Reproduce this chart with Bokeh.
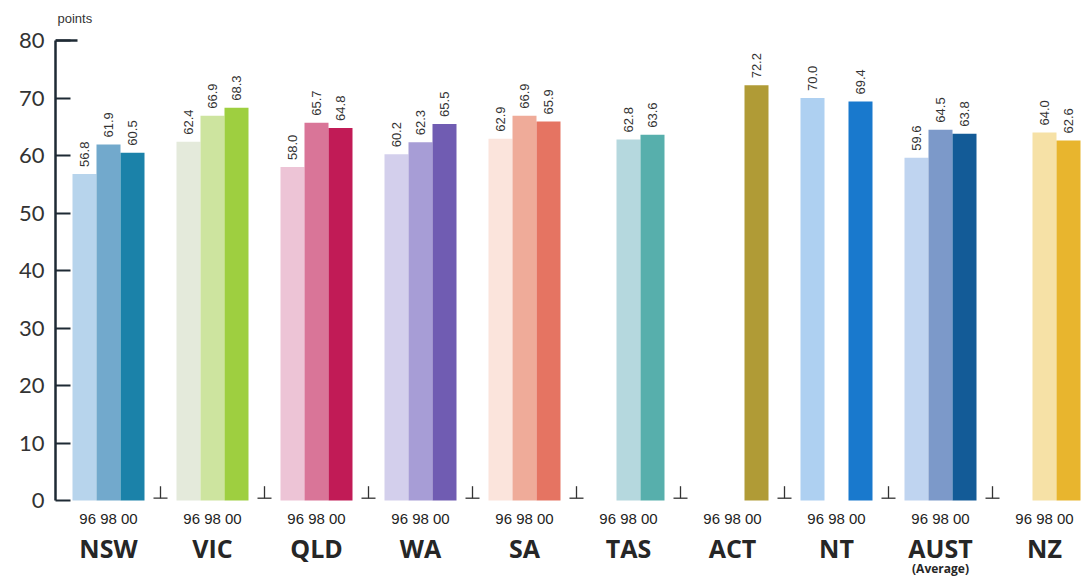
import numpy as np
from bokeh.plotting import figure
from bokeh.models import ColumnDataSource, LinearAxis, FixedTicker, Range1d
from bokeh.core.properties import value
from bokeh.embed import file_html
from bokeh.resources import INLINE

# ---------------- data ----------------
regions = ["NSW", "VIC", "QLD", "WA", "SA", "TAS", "ACT", "NT", "AUST", "NZ"]
years = ["96", "98", "00"]
values_96 = [56.8, 62.4, 58.0, 60.2, 62.9, None, None, 70.0, 59.6, None]
values_98 = [61.9, 66.9, 65.7, 62.3, 66.9, 62.8, None, None, 64.5, 64.0]
values_00 = [60.5, 68.3, 64.8, 65.5, 65.9, 63.6, 72.2, 69.4, 63.8, 62.6]
y_ticks = [0, 10, 20, 30, 40, 50, 60, 70, 80]
unit_label = "points"
sub_label = "(Average)"

# ---------------- styles ----------------
colors_96 = ["#b7d4ec", "#e4eadb", "#edc4d6", "#d3cfec", "#fbe4dc", None, None, "#aed0f1", "#bfd4f0", None]
colors_98 = ["#72a9cc", "#cde49f", "#d97598", "#a79dd6", "#efab99", "#b5d8de", None, None, "#7c99c9", "#f6e1a6"]
colors_00 = ["#1b82a9", "#9ecf40", "#c11b56", "#705cb2", "#e57462", "#57afac", "#b09b36", "#1979cd", "#135b97", "#e8b52e"]

W, H = 1088, 579
LEFT = 55
GROUP_PX = 104.0
FIRST_CENTER_PX = 108.0
ZERO_PX, TOP_PX = 500.0, 40.0
px_per_unit = (ZERO_PX - TOP_PX) / 80.0
bar_w = 24.0 / GROUP_PX

def xpx(px):
    return (px - FIRST_CENTER_PX) / GROUP_PX

x_start, x_end = xpx(LEFT), xpx(W)
y_end = 80 + TOP_PX / px_per_unit
y_start = -(H - ZERO_PX) / px_per_unit

p = figure(width=W, height=H, output_backend="svg", toolbar_location=None,
           x_range=Range1d(x_start, x_end), y_range=Range1d(y_start, y_end),
           min_border_left=LEFT, min_border_right=0, min_border_top=0, min_border_bottom=0,
           x_axis_location=None, y_axis_location=None)
p.outline_line_color = None
p.xgrid.visible = False
p.ygrid.visible = False
p.background_fill_color = "white"
p.border_fill_color = "white"

AX_COL = "#1e2a34"
yax = LinearAxis(ticker=FixedTicker(ticks=y_ticks), bounds=(0, 80))
yax.axis_line_color = AX_COL
yax.axis_line_width = 2.5
yax.major_tick_line_color = AX_COL
yax.major_tick_line_width = 2
yax.major_tick_in = 15
yax.major_tick_out = 0
yax.minor_tick_line_color = None
yax.major_label_text_font = "Lato"
yax.major_label_text_font_size = "22px"
yax.major_label_text_color = "#333333"
yax.major_label_standoff = 11
p.add_layout(yax, "left")

# longer tick at the top
p.segment(x0=[x_start], y0=[80], x1=[xpx(77)], y1=[80], line_color=AX_COL, line_width=2.5)

# bars
offsets = [-1, 0, 1]
xs, tops, cols, labels = [], [], [], []
for series, colors, off in zip([values_96, values_98, values_00], [colors_96, colors_98, colors_00], offsets):
    for i, (v, c) in enumerate(zip(series, colors)):
        if v is None:
            continue
        xs.append(i + off * bar_w)
        tops.append(v)
        cols.append(c)
        labels.append(f"{v:.1f}")
src = ColumnDataSource(dict(x=xs, top=tops, color=cols, label=labels))
p.vbar(x="x", top="top", bottom=0, width=bar_w, fill_color="color", line_color=None, source=src)

# value labels (rotated)
p.text(x="x", y="top", text="label", source=src, angle=np.pi / 2, text_align="left",
       text_baseline="middle", y_offset=-7, text_font=value("Liberation Sans"),
       text_font_size="13px", text_color="#333333")

# separator marks between groups
sep_x = [i + 0.5 for i in range(len(regions) - 1)]
half = 7.0 / GROUP_PX
p.segment(x0=[x - half for x in sep_x], y0=[0.4] * len(sep_x), x1=[x + half for x in sep_x],
          y1=[0.4] * len(sep_x), line_color="#333333", line_width=1.3)
p.segment(x0=sep_x, y0=[0.4] * len(sep_x), x1=sep_x, y1=[0.4 + 12 / px_per_unit] * len(sep_x),
          line_color="#333333", line_width=1.3)

centers = list(range(len(regions)))
# year labels
year_text = " ".join(years)
p.text(x=centers, y=[-(518 - ZERO_PX) / px_per_unit] * len(centers), text=[year_text] * len(centers),
       text_align="center", text_baseline="middle", text_font=value("Liberation Sans"),
       text_font_size="15px", text_color="#222222")
# region labels
p.text(x=centers, y=[-(547 - ZERO_PX) / px_per_unit] * len(centers), text=regions,
       text_align="center", text_baseline="middle", text_font=value("Open Sans"),
       text_font_style="bold", text_font_size="25px", text_color="#262626")
# (Average)
p.text(x=[regions.index("AUST")], y=[-(568 - ZERO_PX) / px_per_unit], text=[sub_label],
       text_align="center", text_baseline="middle", text_font=value("Open Sans"),
       text_font_style="bold", text_font_size="12px", text_color="#262626")
# unit label
p.text(x=[xpx(57)], y=[80 + (TOP_PX - 18) / px_per_unit], text=[unit_label],
       text_align="left", text_baseline="middle", text_font=value("Liberation Sans"),
       text_font_size="13px", text_color="#333333")

open("out.html", "w").write(file_html(p, INLINE))
